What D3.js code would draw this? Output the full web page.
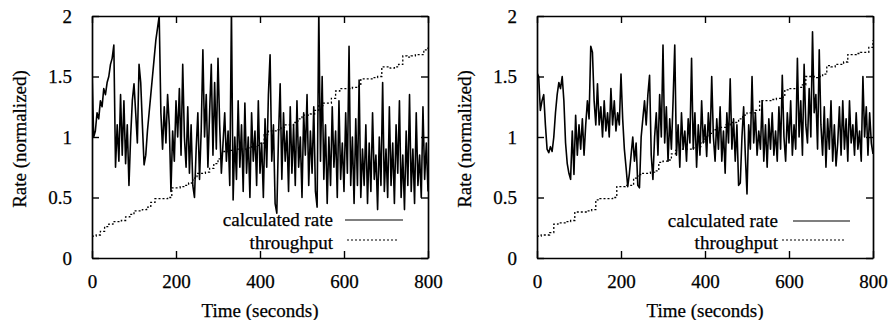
<!DOCTYPE html>
<html>
<head>
<meta charset="utf-8">
<script src="https://cdn.jsdelivr.net/npm/d3@7"></script>
<style>
  body { margin: 0; background: #fff; }
  svg text { font-family: "Liberation Serif", "Times New Roman", serif; fill: #000; stroke: #000; stroke-width: 0.25px; }
</style>
</head>
<body>
<svg id="chart" width="892" height="320"></svg>
<script>
// x ticks and y ticks shared by both panels
const xTicks = [0, 200, 400, 600, 800];
const yTicks = [0, 0.5, 1, 1.5, 2];
const yTickLabels = ['0', '0.5', '1', '1.5', '2'];
const legendLabels = ['calculated rate', 'throughput'];

// left panel, calculated rate, sampled every 4 s from 0 to 800 s
const rateLeft = [
  1.55, 1.0, 1.05, 1.2, 1.15, 1.3, 1.25, 1.4, 1.35, 1.45, 1.5, 1.6, 1.65, 1.76,
  0.75, 1.1, 0.8, 1.35, 0.85, 1.3, 0.78, 1.1, 0.6, 1.0, 1.3, 1.44, 1.2, 0.95,
  1.6, 1.45, 1.1, 0.77, 0.85, 1.05, 1.2, 1.35, 1.5, 1.65, 1.8, 1.9, 2.0, 1.2,
  0.9, 1.25, 0.95, 1.35, 1.1, 0.55, 1.05, 0.8, 1.3, 1.0, 1.4, 0.85, 1.6, 1.0,
  0.75, 1.25, 0.7, 1.1, 0.6, 0.5, 0.9, 1.2, 0.65, 1.05, 1.72, 1.0, 1.35, 0.75,
  1.2, 1.6, 0.85, 1.45, 0.9, 1.65, 1.1, 0.7, 0.95, 1.2, 0.8, 1.05, 0.6, 2.05,
  0.48, 1.0, 0.65, 1.3, 0.75, 1.1, 0.55, 1.28, 0.7, 1.0, 0.5, 1.2, 0.8, 1.05,
  0.6, 1.3, 0.7, 0.95, 0.5, 1.15, 0.75, 1.35, 1.68, 0.8, 1.1, 0.45, 0.37, 1.0,
  1.44, 0.65, 1.2, 0.8, 1.05, 0.55, 1.25, 0.7, 1.1, 0.6, 1.3, 0.75, 1.0, 0.5,
  1.2, 0.85, 1.35, 0.6, 1.05, 0.7, 1.25, 0.55, 0.42, 2.05, 0.8, 1.5, 0.65, 1.1,
  0.45, 1.0, 0.6, 1.25, 0.75, 1.05, 0.5, 1.3, 0.65, 0.95, 0.55, 1.2, 0.7, 1.75,
  0.6, 1.0, 0.45, 1.15, 0.6, 1.47, 0.5, 0.9, 0.6, 1.1, 0.45, 0.95, 0.55, 1.2,
  0.65, 0.85, 0.4, 1.0, 0.6, 1.45, 0.55, 0.9, 0.5, 1.25, 0.6, 0.95, 0.45, 1.1,
  0.7, 1.3, 0.5, 0.85, 0.4, 1.05, 0.6, 1.35, 0.55, 0.9, 0.45, 1.2, 0.6, 0.85,
  0.5, 1.25, 0.65, 0.95, 0.55
];

// left panel, throughput, sampled every 10 s
const thrLeft = [
  0.18, 0.19, 0.22, 0.26, 0.28, 0.30, 0.30, 0.31, 0.34, 0.36,
  0.39, 0.39, 0.40, 0.42, 0.46, 0.49, 0.49, 0.49, 0.50, 0.58,
  0.58, 0.59, 0.60, 0.62, 0.66, 0.70, 0.70, 0.71, 0.74, 0.78,
  0.82, 0.88, 0.88, 0.89, 0.90, 0.90, 0.90, 0.91, 0.92, 0.93,
  0.95, 1.02, 1.05, 1.05, 1.06, 1.08, 1.10, 1.10, 1.12, 1.15,
  1.18, 1.18, 1.19, 1.22, 1.26, 1.28, 1.28, 1.32, 1.38, 1.40,
  1.40, 1.40, 1.41, 1.42, 1.48, 1.48, 1.48, 1.49, 1.50, 1.58,
  1.58, 1.57, 1.58, 1.60, 1.67, 1.66, 1.67, 1.68, 1.68, 1.72,
  1.74
];

// right panel, calculated rate, sampled every 4 s
const rateRight = [
  1.53, 1.5, 1.22, 1.3, 1.35, 1.1, 0.9, 0.87, 0.92, 0.88, 1.0, 1.2, 1.35, 1.45,
  1.4, 1.5, 1.3, 0.95, 0.78, 0.7, 0.65, 1.05, 0.69, 1.18, 0.85, 1.1, 0.9, 1.15,
  0.85, 1.1, 1.3, 1.15, 1.75, 1.7, 1.3, 1.1, 1.44, 1.1, 1.25, 1.0, 1.3, 1.05,
  1.2, 1.0, 1.4, 1.1, 1.3, 1.05, 1.2, 1.1, 1.52, 1.15, 0.9, 0.75, 0.59, 0.7,
  0.85, 1.0, 0.8, 0.95, 0.6, 0.58, 1.0, 1.15, 1.3, 1.1, 1.35, 1.51, 0.85, 0.65,
  1.0, 1.2, 0.85, 1.35, 1.0, 1.76, 0.95, 1.25, 0.8, 1.15, 0.9, 1.3, 1.76, 0.85,
  1.1, 0.75, 1.2, 0.9, 1.05, 0.8, 1.15, 0.95, 1.65, 0.9, 1.2, 0.75, 1.1, 0.85,
  1.3, 0.95, 1.1, 0.84, 1.2, 0.95, 1.5, 1.0, 0.8, 1.15, 0.9, 1.25, 0.8, 1.05,
  0.7, 1.2, 0.95, 1.48, 0.9, 1.15, 0.8, 1.1, 0.6, 0.62, 1.0, 1.25, 0.85, 0.53,
  1.1, 0.9, 1.5, 0.95, 1.2, 0.85, 1.05, 0.9, 1.3, 0.8, 1.1, 0.75, 1.15, 0.9,
  1.2, 0.85, 1.05, 0.8, 1.25, 0.9, 1.51, 1.0, 0.8, 1.2, 0.95, 1.3, 0.85, 1.1,
  0.9, 1.65, 1.0, 1.3, 0.85, 1.6, 1.1, 0.95, 1.4, 1.0, 1.87, 1.2, 1.35, 0.9,
  1.72, 1.1, 0.85, 1.25, 0.75, 1.15, 0.9, 1.3, 0.8, 1.1, 0.76, 0.95, 1.25, 0.85,
  1.3, 0.9, 1.15, 0.8, 1.3, 0.95, 1.1, 0.85, 1.2, 0.9, 1.05, 0.8, 1.5, 1.0,
  1.25, 0.85, 1.2, 0.95, 0.86
];

// right panel, throughput, sampled every 10 s
const thrRight = [
  0.18, 0.19, 0.19, 0.21, 0.28, 0.29, 0.29, 0.30, 0.31, 0.38,
  0.38, 0.38, 0.39, 0.40, 0.48, 0.49, 0.49, 0.49, 0.50, 0.59,
  0.59, 0.60, 0.60, 0.66, 0.69, 0.70, 0.70, 0.71, 0.72, 0.79,
  0.80, 0.81, 0.86, 0.89, 0.90, 0.90, 0.90, 0.91, 0.92, 0.96,
  1.00, 1.03, 1.06, 1.08, 1.08, 1.10, 1.12, 1.12, 1.15, 1.18,
  1.20, 1.20, 1.22, 1.30, 1.30, 1.30, 1.31, 1.32, 1.33, 1.39,
  1.40, 1.40, 1.41, 1.43, 1.50, 1.50, 1.49, 1.50, 1.52, 1.59,
  1.58, 1.60, 1.60, 1.62, 1.68, 1.68, 1.69, 1.70, 1.70, 1.74,
  1.80
];

const panels = [
  { left: 92, rate: rateLeft, thr: thrLeft,
    legend: { textX: 333, y1: 220, y2: 243, solid: [345, 403], dotted: [347, 398] } },
  { left: 537, rate: rateRight, thr: thrRight,
    legend: { textX: 778, y1: 221, y2: 243, solid: [793, 850], dotted: [782, 845] } }
];

const plotW = 336, plotTop = 16, plotBottom = 258;
const svg = d3.select('#chart');

// time stamps for an evenly sampled series over 0..800 s
function withTime(values) {
  const step = 800 / (values.length - 1);
  return values.map((v, i) => ({ t: i * step, v: v }));
}

panels.forEach((p, k) => {
  const x = d3.scaleLinear().domain([0, 800]).range([p.left, p.left + plotW]);
  const y = d3.scaleLinear().domain([0, 2]).range([plotBottom, plotTop]);
  const g = svg.append('g');

  g.append('clipPath').attr('id', 'clip' + k)
    .append('rect')
    .attr('x', x(0)).attr('y', y(2))
    .attr('width', plotW).attr('height', plotBottom - plotTop);

  // data
  const data = g.append('g').attr('clip-path', `url(#clip${k})`);
  data.append('path')
    .datum(withTime(p.thr))
    .attr('fill', 'none')
    .attr('stroke', '#000')
    .attr('stroke-width', 1.3)
    .attr('stroke-dasharray', '2,2')
    .attr('d', d3.line().x(d => x(d.t)).y(d => y(d.v)).curve(d3.curveStepAfter));
  data.append('path')
    .datum(withTime(p.rate))
    .attr('fill', 'none')
    .attr('stroke', '#000')
    .attr('stroke-width', 1.6)
    .attr('stroke-linejoin', 'round')
    .attr('d', d3.line().x(d => x(d.t)).y(d => y(d.v)));

  // axes: gnuplot style, inward ticks on every side
  const xb = g.append('g').attr('transform', `translate(0,${plotBottom})`)
    .call(d3.axisBottom(x).tickValues(xTicks).tickSizeInner(-7).tickSizeOuter(0).tickPadding(17));
  const xt = g.append('g').attr('transform', `translate(0,${plotTop})`)
    .call(d3.axisTop(x).tickValues(xTicks).tickSizeInner(-7).tickSizeOuter(0).tickFormat(''));
  const yl = g.append('g').attr('transform', `translate(${p.left},0)`)
    .call(d3.axisLeft(y).tickValues(yTicks).tickSizeInner(-7).tickSizeOuter(0).tickPadding(20)
      .tickFormat((d, i) => yTickLabels[i]));
  const yr = g.append('g').attr('transform', `translate(${p.left + plotW},0)`)
    .call(d3.axisRight(y).tickValues(yTicks).tickSizeInner(-7).tickSizeOuter(0).tickFormat(''));

  [xb, xt, yl, yr].forEach(a => {
    a.attr('font-family', null);
    a.select('.domain').attr('stroke', '#000').attr('stroke-width', 1.7);
    a.selectAll('.tick line').attr('stroke', '#000').attr('stroke-width', 1.4);
    a.selectAll('.tick text').style('font-size', '19px').attr('fill', '#000');
  });

  // axis titles
  g.append('text')
    .attr('x', x(400)).attr('y', 317)
    .attr('text-anchor', 'middle')
    .style('font-size', '19px')
    .text('Time (seconds)');
  g.append('text')
    .attr('transform', `translate(${p.left - 73},${(plotTop + plotBottom) / 2 + 2}) rotate(-90)`)
    .attr('text-anchor', 'middle')
    .attr('dy', '0.35em')
    .style('font-size', '19px')
    .text('Rate (normalized)');

  // legend
  const L = p.legend;
  [L.y1, L.y2].forEach((yy, i) => {
    g.append('text')
      .attr('x', L.textX).attr('y', yy)
      .attr('dy', '0.3em')
      .attr('text-anchor', 'end')
      .style('font-size', '19px')
      .text(legendLabels[i]);
  });
  g.append('line')
    .attr('x1', L.solid[0]).attr('x2', L.solid[1])
    .attr('y1', L.y1).attr('y2', L.y1)
    .attr('stroke', '#000').attr('stroke-width', 1.2);
  g.append('line')
    .attr('x1', L.dotted[0]).attr('x2', L.dotted[1])
    .attr('y1', L.y2 - 3).attr('y2', L.y2 - 3)
    .attr('stroke', '#000').attr('stroke-width', 1.2)
    .attr('stroke-dasharray', '2,2');
});
</script>
</body>
</html>
